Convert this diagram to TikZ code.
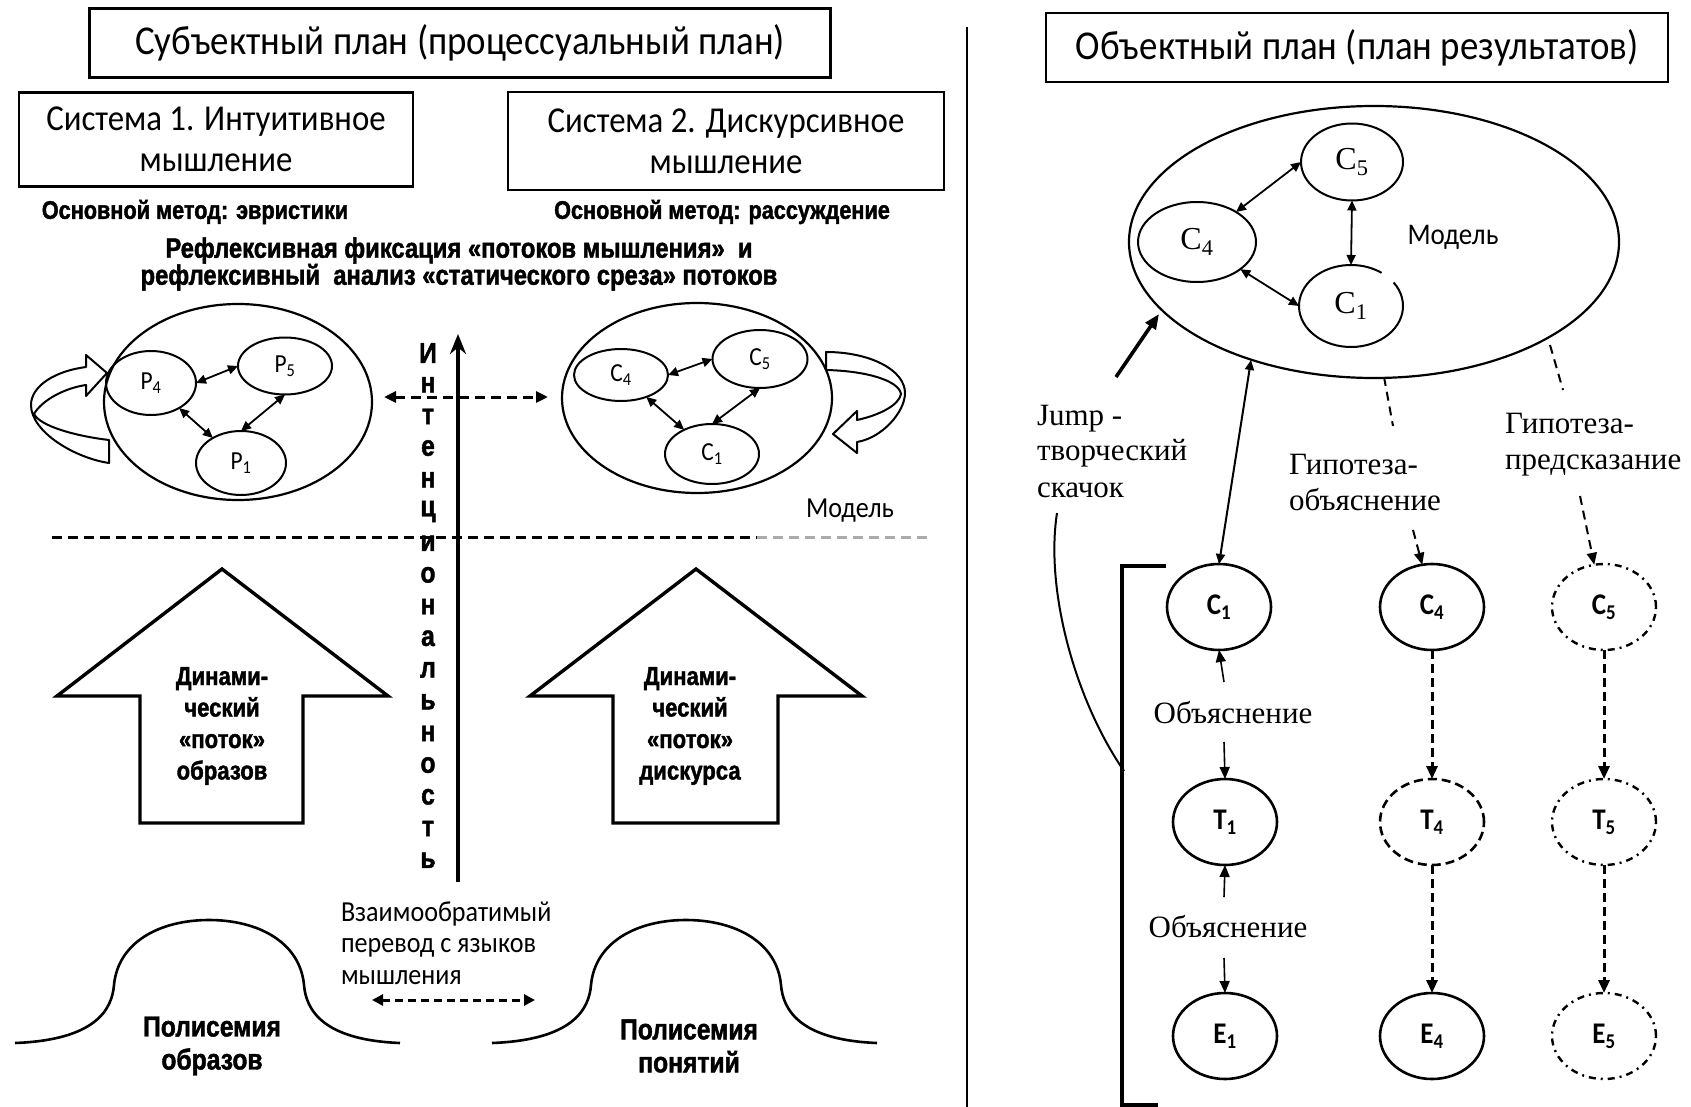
\documentclass[tikz,border=0pt]{standalone}
\usepackage{fontspec}
\setmainfont{Liberation Serif}
\newfontfamily\calfont[FakeStretch=0.9]{Carlito}
\newfontfamily\arfont[FakeStretch=0.85]{Liberation Sans}
\newfontfamily\heavyfont[FakeStretch=0.85,FakeBold=1.5]{Liberation Sans Bold}
\usetikzlibrary{arrows.meta,shapes.geometric}

\begin{document}
\begin{tikzpicture}[x=1pt,y=-1pt,
  every node/.style={inner sep=0pt,outer sep=0pt},
  box/.style={draw,line width=2.6pt},
  ttlfont/.style={font=\calfont\fontsize{41}{44}\selectfont},
  sysfont/.style={font=\calfont\fontsize{36.5}{41}\selectfont,align=center},
  methfont/.style={font=\heavyfont\fontsize{25.5}{26}\selectfont},
  reffont/.style={font=\heavyfont\fontsize{28}{27}\selectfont,align=center},
  vletter/.style={font=\heavyfont\fontsize{29}{29}\selectfont},
  blockfont/.style={font=\heavyfont\fontsize{26}{31.5}\selectfont,align=center},
  polyfont/.style={font=\heavyfont\fontsize{29}{33}\selectfont,align=center},
  calsmall/.style={font=\calfont\fontsize{29}{31.5}\selectfont},
  subell/.style={ellipse,draw,line width=2pt,font=\calfont\fontsize{26}{26}\selectfont},
  bigell/.style={ellipse,draw,line width=2.2pt},
  serif/.style={font=\fontsize{31}{36}\selectfont},
  dbl/.style={{Triangle[length=10pt,width=9pt]}-{Triangle[length=10pt,width=9pt]},line width=1.8pt},
  ribbon/.style={draw,line width=2pt,fill=white,line join=round},
  blockarrow/.style={draw,line width=3.4pt,line join=miter},
  bnode/.style={ellipse,draw,line width=2.6pt,minimum width=104pt,minimum height=86pt,
    font=\calfont\bfseries\fontsize{30}{30}\selectfont},
  dashnode/.style={bnode,dash pattern=on 9pt off 5pt},
  dotnode/.style={bnode,line width=2.4pt,dash pattern=on 7pt off 5pt on 2pt off 5pt},
  down/.style={-{Triangle[length=12pt,width=10pt]},line width=1.6pt},
  darr/.style={-{Triangle[length=13pt,width=11pt]},line width=3pt,dash pattern=on 9pt off 5pt},
  thin dash/.style={line width=2pt,dash pattern=on 9pt off 6pt},
]
\useasboundingbox (0,0) rectangle (1691,1107);

% ---------- subject plane (left half) ----------
\node[box,ttlfont,minimum width=741pt,minimum height=69pt] (subj) at (460,43)
  {Субъектный план (процессуальный план)};
\node[box,sysfont,minimum width=394pt,minimum height=94pt] (sys1) at (216,139.5)
  {Система 1. Интуитивное\\мышление};
\node[box,sysfont,minimum width=436pt,minimum height=98pt] (sys2) at (726,141)
  {Система 2. Дискурсивное\\мышление};
\node[methfont] (meth1) at (195,212) {Основной метод: эвристики};
\node[methfont] (meth2) at (722,212) {Основной метод: рассуждение};
\node[reffont] (refl) at (459,264)
  {Рефлексивная фиксация «потоков мышления»~~и\\рефлексивный~~анализ «статического среза» потоков};

% rotating ribbon arrow around the image model
\draw[ribbon] (86,385) -- (86,396) -- (107,373) -- (86,355) -- (86,367)
  .. controls (55,371) and (31,386) .. (31,405)
  .. controls (31,432) and (75,458) .. (109,463) -- (109,440)
  .. controls (75,436) and (40,426) .. (34,414)
  .. controls (42,400) and (65,388) .. (86,385) -- cycle;

% model built from images
\node[bigell,minimum width=268pt,minimum height=196pt] (imgmodel) at (238,402) {};
\node[subell,minimum width=90pt,minimum height=64pt] (p4) at (151,383) {P\textsubscript{4}};
\node[subell,minimum width=94pt,minimum height=57pt] (p5) at (285,366) {P\textsubscript{5}};
\node[subell,minimum width=90pt,minimum height=64pt] (p1) at (241,463) {P\textsubscript{1}};
\draw[dbl] (p4.east) -- (p5.west);
\draw[dbl] (p4) -- (p1);
\draw[dbl] (p1.north) -- (p5.south);

% model built from concepts
\node[bigell,minimum width=270pt,minimum height=190pt] (cncmodel) at (697,398) {};
\node[subell,minimum width=94pt,minimum height=52pt] (c4) at (621,375) {C\textsubscript{4}};
\node[subell,minimum width=95pt,minimum height=58pt] (c5) at (760,359) {C\textsubscript{5}};
\node[subell,minimum width=94pt,minimum height=60pt] (c1) at (712,454) {C\textsubscript{1}};
\draw[dbl] (c4.east) -- (c5.west);
\draw[dbl] (c4) -- (c1);
\draw[dbl] (c1.north) -- (c5.south);
\node[calsmall] (modlbl) at (850,511) {Модель};

% rotating ribbon arrow around the concept model
\draw[ribbon] (826,352)
  .. controls (870,352) and (905,370) .. (905,393)
  .. controls (905,412) and (882,438) .. (857,442) -- (857,453) -- (833,434) -- (857,411) -- (857,420)
  .. controls (880,415) and (899,405) .. (901,394)
  .. controls (899,381) and (868,371) .. (826,370) -- cycle;

% link between the two models
\coordinate (hl) at (384,397);
\coordinate (hr) at (548,397);
\draw[{Triangle[length=12pt,width=11pt]}-{Triangle[length=12pt,width=11pt]},line width=3pt,dash pattern=on 10pt off 6pt] (hl) -- (hr);

% level separator
\coordinate (sepl) at (52,537);
\coordinate (sepm) at (757,537);
\coordinate (sepr) at (927,537);
\draw[line width=3pt,dash pattern=on 10pt off 6pt] (sepl) -- (sepm);
\draw[line width=3pt,dash pattern=on 10pt off 6pt,gray!65] (sepm) -- (sepr);

% intentionality axis
\coordinate (axb) at (458,882);
\coordinate (axt) at (458,334);
\draw[-{Stealth[length=20pt,width=16pt]},line width=4pt] (axb) -- (axt);
\foreach \ch [count=\i from 0] in {И,н,т,е,н,ц,и,о,н,а,л,ь,н,о,с,т,ь}
  \node[vletter] (v\i) at (428,353+31.7*\i) {\ch};

% block arrows of the two streams
\draw[blockarrow] (222,569) -- (388,696) -- (303,696) -- (303,823) -- (140,823) -- (140,696) -- (57,696) -- cycle;
\node[blockfont] (flow1) at (222,726) {Динами-\\ческий\\«поток»\\образов};
\draw[blockarrow] (696,569) -- (862,696) -- (778,696) -- (778,823) -- (613,823) -- (613,696) -- (530,696) -- cycle;
\node[blockfont] (flow2) at (690,726) {Динами-\\ческий\\«поток»\\дискурса};

% polysemy humps
\draw[line width=2.6pt] (15,1043) .. controls (95,1040) and (112,1010) .. (114,985)
  .. controls (118,942) and (160,920) .. (209,920)
  .. controls (258,920) and (300,942) .. (304,985)
  .. controls (306,1010) and (323,1040) .. (400,1043);
\draw[line width=2.6pt] (492,1043) .. controls (572,1040) and (589,1010) .. (591,985)
  .. controls (595,942) and (637,920) .. (686,920)
  .. controls (735,920) and (777,942) .. (781,985)
  .. controls (783,1010) and (800,1040) .. (877,1043);
\node[polyfont] (poly1) at (212,1046) {Полисемия\\образов};
\node[polyfont] (poly2) at (689,1046) {Полисемия\\понятий};
\node[calsmall,align=left,anchor=west] (transl) at (341,943)
  {Взаимообратимый\\перевод с языков\\мышления};
\coordinate (tl) at (372,1000);
\coordinate (tr) at (535,1000);
\draw[{Triangle[length=11pt,width=11pt]}-{Triangle[length=11pt,width=11pt]},line width=3pt,dash pattern=on 8pt off 5pt] (tl) -- (tr);

% divider between the planes
\coordinate (divt) at (967,27);
\coordinate (divb) at (967,1107);
\draw[line width=2pt] (divt) -- (divb);

% ---------- object plane (right half) ----------
\node[box,ttlfont,minimum width=622pt,minimum height=69pt] (obj) at (1357,47.5)
  {Объектный план (план результатов)};

\node[bigell,minimum width=490pt,minimum height=272pt] (model) at (1374,242) {};
\node[ellipse,draw,line width=2pt,minimum width=102pt,minimum height=77pt,font=\fontsize{32}{32}\selectfont] (c5m) at (1352,162) {C\textsubscript{5}};
\node[ellipse,draw,line width=2pt,minimum width=118pt,minimum height=80pt,font=\fontsize{32}{32}\selectfont] (c4m) at (1197,242) {C\textsubscript{4}};
\node[ellipse,minimum width=104pt,minimum height=82pt,font=\fontsize{32}{32}\selectfont] (c1m) at (1351,306) {C\textsubscript{1}};
\draw[line width=2pt] (c1m.center) ++(-35:52 and 41) arc[start angle=-35,end angle=306,x radius=52,y radius=41];
\draw[dbl] (c4m) -- (c5m.west);
\draw[dbl] (c5m.south) -- (c1m.north);
\draw[dbl] (c4m) -- (c1m.west);
\node[calsmall,font=\calfont\fontsize{30}{30}\selectfont] (modlbl2) at (1453,237) {Модель};

% creative jump
\coordinate (jfrom) at (1116,377);
\coordinate (jto) at (1159,314);
\draw[-{Triangle[length=15pt,width=12pt]},line width=3.6pt] (jfrom) -- (jto);
\node[serif,align=left,anchor=west] (jump) at (1037,451) {Jump -\\творческий\\скачок};

% explanation / prediction hypotheses
\node[serif,align=left,anchor=west] (hexp) at (1289,482) {Гипотеза-\\объяснение};
\node[serif,align=left,anchor=west] (hpred) at (1505,445) {Гипотеза-\\предсказание};

% chains: cause - theory - evidence
\node[bnode] (c1b) at (1219,607) {C\textsubscript{1}};
\node[bnode] (t1b) at (1225,822) {T\textsubscript{1}};
\node[bnode] (e1b) at (1225,1036) {E\textsubscript{1}};
\node[bnode] (c4b) at (1432,607) {C\textsubscript{4}};
\node[dashnode] (t4b) at (1432,822) {T\textsubscript{4}};
\node[bnode] (e4b) at (1432,1036) {E\textsubscript{4}};
\node[dotnode] (c5b) at (1604,607) {C\textsubscript{5}};
\node[dotnode] (t5b) at (1604,822) {T\textsubscript{5}};
\node[dotnode] (e5b) at (1604,1036) {E\textsubscript{5}};

\coordinate (mtip) at (1251,360);
\draw[dbl,line width=2pt] (mtip) -- (c1b.north);

\node[serif] (expl1) at (1233,713) {Объяснение};
\node[serif] (expl2) at (1228,927) {Объяснение};
\coordinate (a1) at (1224,682);
\coordinate (a2) at (1224,742);
\coordinate (a3) at (1224,897);
\coordinate (a4) at (1224,958);
\draw[down] (a1) -- (c1b.south);
\draw[down] (a2) -- (t1b.north);
\draw[down] (a3) -- (t1b.south);
\draw[down] (a4) -- (e1b.north);

\draw[darr] (c4b) -- (t4b);
\draw[darr] (t4b) -- (e4b);
\draw[darr] (c5b) -- (t5b);
\draw[darr] (t5b) -- (e5b);

\coordinate (h1a) at (1384,377);
\coordinate (h1b) at (1393,426);
\coordinate (h1c) at (1413,530);
\coordinate (h2a) at (1550,345);
\coordinate (h2b) at (1563,390);
\coordinate (h2c) at (1580,496);
\draw[thin dash] (h1a) -- (h1b);
\draw[thin dash] (h2a) -- (h2b);
\draw[-{Triangle[length=12pt,width=10pt]},thin dash] (h1c) -- (c4b.103);
\draw[-{Triangle[length=12pt,width=10pt]},thin dash] (h2c) -- (c5b.103);

% bracket that groups the chains
\coordinate (bt) at (1166,566);
\coordinate (btc) at (1122,566);
\coordinate (bbc) at (1122,1105);
\coordinate (bb) at (1158,1105);
\draw[line width=3.5pt] (bt) -- (btc) -- (bbc) -- (bb);
\coordinate (jc) at (1057,513);
\coordinate (jb) at (1124,771);
\draw[line width=2pt] (jc) .. controls (1045,590) and (1075,700) .. (jb);
\end{tikzpicture}
\end{document}
